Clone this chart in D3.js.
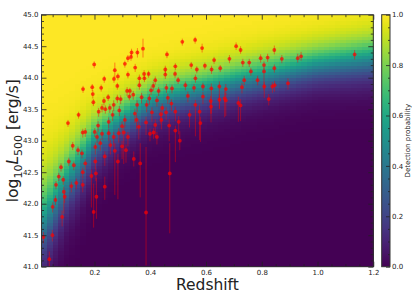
<!DOCTYPE html>
<html>
<head>
<meta charset="utf-8">
<script src="https://cdn.jsdelivr.net/npm/d3@7"></script>
<style>
body { margin:0; background:#fff; }
svg text { font-family:"DejaVu Sans", sans-serif; fill:#222; }
</style>
</head>
<body>
<svg id="chart" width="415" height="297"></svg>
<script>
// plot box (px)
var box = {left: 41.5, right: 373.3, top: 14.7, bottom: 266.7};
var cbar = {left: 381.7, right: 390};

// cluster sample: redshift, log L500 and asymmetric errors (dex)
var redshift = [0.199,0.333,0.354,0.331,0.320,0.309,0.273,0.284,0.270,0.235,0.320,0.282,0.192,0.224,0.159,0.194,0.317,0.327,0.325,0.249,
  0.234,0.282,0.294,0.196,0.269,0.227,0.239,0.255,0.215,0.289,0.143,0.265,0.105,0.213,0.251,0.309,0.299,0.515,0.561,0.586,
  0.374,0.460,0.346,0.454,0.454,0.490,0.547,0.596,0.629,0.620,0.651,0.394,0.378,0.361,0.379,0.418,0.489,0.500,0.567,0.562,
  0.526,0.557,0.589,0.619,0.648,0.361,0.411,0.458,0.478,0.403,0.430,0.339,0.369,0.397,0.424,0.463,0.535,0.589,0.617,0.648,
  0.353,0.387,0.443,0.476,0.562,0.618,0.345,0.406,0.438,0.457,0.490,0.577,0.541,0.351,0.385,0.418,0.440,0.502,0.580,0.468,
  0.359,0.708,0.724,0.845,0.684,0.732,0.755,0.796,0.821,0.872,0.929,0.941,0.808,0.761,0.808,0.845,0.737,0.785,0.671,0.729,
  0.809,0.838,0.846,0.894,0.667,0.671,0.716,0.724,0.825,1.133,0.158,0.167,0.201,0.209,0.227,0.251,0.269,0.287,0.305,0.320,
  0.122,0.141,0.155,0.203,0.221,0.257,0.273,0.299,0.313,0.080,0.108,0.126,0.167,0.203,0.237,0.284,0.072,0.088,0.135,0.158,
  0.189,0.205,0.158,0.117,0.062,0.060,0.090,0.093,0.237,0.207,0.050,0.084,0.197,0.017,0.038,0.049,0.341,0.364,0.385,0.470,
  0.506,0.399,0.412,0.424,0.490];
var logL = [44.21,44.40,44.40,44.33,44.31,44.22,44.12,44.02,43.98,43.98,44.05,43.87,43.85,43.84,43.82,43.74,43.79,43.79,43.70,43.69,
  43.63,43.67,43.66,43.61,43.57,43.52,43.50,43.52,43.46,43.48,43.41,43.41,43.28,43.24,43.30,43.33,43.23,44.57,44.60,44.47,
  44.46,44.37,44.16,44.13,44.05,44.18,44.20,44.19,44.28,44.13,44.15,44.06,44.06,43.99,43.99,43.96,44.06,43.96,44.13,43.99,
  43.88,43.84,43.86,43.83,43.86,43.88,43.87,43.84,43.83,43.80,43.79,43.73,43.69,43.67,43.64,43.68,43.71,43.70,43.63,43.65,
  43.57,43.57,43.52,43.59,43.57,43.54,43.43,43.45,43.42,43.45,43.46,43.46,43.41,43.33,43.29,43.25,43.33,43.30,43.28,43.24,
  43.22,44.50,44.44,44.44,44.30,44.24,44.24,44.31,44.32,44.30,44.31,44.34,44.20,44.10,44.10,44.15,43.96,43.96,43.82,43.85,
  43.86,43.86,43.88,43.91,43.67,43.64,43.60,43.56,43.66,44.37,43.13,43.14,43.14,43.06,43.11,43.12,43.06,43.12,43.13,43.06,
  42.92,42.85,42.80,42.90,42.96,42.93,42.84,42.91,42.85,42.58,42.67,42.61,42.64,42.67,42.75,42.67,42.43,42.38,42.33,42.50,
  42.44,42.48,42.30,42.28,42.30,42.06,42.19,42.11,42.27,42.11,41.95,41.79,41.87,41.47,41.12,41.50,42.71,42.64,41.86,42.48,
  43.00,43.11,43.13,43.06,43.16];
var errLo = [0.06,0.06,0.08,0.06,0.06,0.06,0.12,0.06,0.06,0.06,0.06,0.06,0.06,0.06,0.06,0.07,0.08,0.06,0.06,0.06,
  0.07,0.07,0.08,0.06,0.10,0.07,0.07,0.08,0.08,0.09,0.06,0.10,0.06,0.10,0.10,0.12,0.15,0.06,0.06,0.07,
  0.14,0.06,0.07,0.07,0.07,0.06,0.06,0.06,0.06,0.07,0.06,0.06,0.07,0.07,0.06,0.07,0.06,0.06,0.06,0.07,
  0.08,0.07,0.07,0.40,0.35,0.07,0.08,0.08,0.08,0.08,0.08,0.08,0.10,0.10,0.10,0.10,0.10,0.12,0.20,0.15,
  0.12,0.12,0.12,0.12,0.50,0.25,0.15,0.15,0.15,0.12,0.15,0.45,0.20,0.15,0.20,0.20,0.15,0.20,0.30,0.25,
  0.20,0.06,0.06,0.07,0.07,0.07,0.07,0.07,0.07,0.07,0.07,0.07,0.07,0.07,0.30,0.07,0.08,0.08,0.10,0.10,
  0.18,0.10,0.10,0.10,0.30,0.25,0.30,0.25,0.10,0.08,0.08,0.08,0.08,0.10,0.10,0.12,0.15,0.15,0.50,0.15,
  0.07,0.08,0.08,0.12,0.12,0.15,0.70,0.20,0.20,0.07,0.07,0.08,0.10,0.12,0.15,0.60,0.07,0.08,0.10,0.10,
  0.50,0.12,0.12,0.10,0.07,0.08,0.35,0.10,0.21,0.35,0.09,0.15,0.25,0.10,0.12,0.10,0.12,0.54,0.84,0.95,
  0.15,0.12,0.10,0.12,0.50];
var errHi = [0.05,0.06,0.07,0.05,0.05,0.05,0.12,0.05,0.05,0.05,0.05,0.05,0.05,0.05,0.05,0.06,0.06,0.05,0.05,0.05,
  0.06,0.06,0.06,0.05,0.07,0.06,0.06,0.06,0.06,0.07,0.05,0.07,0.05,0.07,0.07,0.08,0.08,0.05,0.05,0.07,
  0.16,0.05,0.06,0.06,0.06,0.05,0.05,0.05,0.05,0.06,0.05,0.05,0.06,0.06,0.05,0.06,0.05,0.05,0.05,0.06,
  0.06,0.06,0.06,0.08,0.08,0.06,0.06,0.06,0.06,0.06,0.06,0.06,0.07,0.07,0.07,0.07,0.07,0.07,0.08,0.08,
  0.07,0.07,0.07,0.07,0.08,0.08,0.08,0.08,0.08,0.08,0.08,0.10,0.08,0.08,0.09,0.09,0.08,0.09,0.10,0.10,
  0.09,0.06,0.06,0.07,0.06,0.06,0.06,0.06,0.06,0.06,0.07,0.07,0.06,0.06,0.06,0.06,0.07,0.07,0.08,0.07,
  0.07,0.07,0.07,0.08,0.12,0.12,0.10,0.10,0.08,0.07,0.06,0.06,0.06,0.07,0.07,0.07,0.08,0.08,0.10,0.08,
  0.06,0.06,0.06,0.07,0.07,0.08,0.12,0.09,0.09,0.06,0.06,0.06,0.07,0.07,0.08,0.12,0.06,0.06,0.07,0.07,
  0.10,0.08,0.08,0.07,0.06,0.07,0.08,0.07,0.16,0.30,0.07,0.10,0.45,0.08,0.12,0.08,0.12,0.32,1.04,0.48,
  0.15,0.08,0.07,0.08,0.08];

// detection probability: 50% luminosity and transition width per redshift
var probZ     = [0.01, 0.05, 0.10, 0.15, 0.20, 0.30, 0.40, 0.50, 0.60, 0.70, 0.80, 0.90, 1.00, 1.10, 1.20];
var probL50   = [41.70,42.00,42.38,42.68,43.00,43.35,43.62,43.75,43.84,43.95,44.04,44.13,44.22,44.27,44.32];
var probWidth = [0.38, 0.33, 0.28, 0.26, 0.22, 0.19, 0.18, 0.18, 0.18, 0.18, 0.18, 0.18, 0.18, 0.19, 0.20];
var nCellZ = 60, nCellL = 80;

// ticks
var zDomain = [0.01, 1.2], lDomain = [41.0, 45.0];
var xTicks = [0.2, 0.4, 0.6, 0.8, 1.0, 1.2];
var yTicks = [41.0, 41.5, 42.0, 42.5, 43.0, 43.5, 44.0, 44.5, 45.0];
var cbTicks = [0.0, 0.2, 0.4, 0.6, 0.8, 1.0];

var svg = d3.select("#chart");

var xScale = d3.scaleLinear().domain(zDomain).range([box.left, box.right]);
var yScale = d3.scaleLinear().domain(lDomain).range([box.bottom, box.top]);
var l50At = d3.scaleLinear().domain(probZ).range(probL50).clamp(true);
var widthAt = d3.scaleLinear().domain(probZ).range(probWidth).clamp(true);

//heatmap cells
var cells = [];
var dz = (zDomain[1] - zDomain[0]) / nCellZ, dl = (lDomain[1] - lDomain[0]) / nCellL;
for (var i = 0; i < nCellZ; i++) {
  for (var j = 0; j < nCellL; j++) {
    var zc = zDomain[0] + (i + 0.5) * dz, lc = lDomain[0] + (j + 0.5) * dl;
    var p = 1 / (1 + Math.exp(-(lc - l50At(zc)) / widthAt(zc)));
    cells.push({z0: zDomain[0] + i * dz, l0: lDomain[0] + j * dl, p: p});
  }
}
svg.append("g").selectAll("rect").data(cells).enter().append("rect")
  .attr("x", function(d) { return xScale(d.z0); })
  .attr("y", function(d) { return yScale(d.l0 + dl); })
  .attr("width", function(d) { return xScale(d.z0 + dz) - xScale(d.z0) + 0.4; })
  .attr("height", function(d) { return yScale(d.l0) - yScale(d.l0 + dl) + 0.4; })
  .attr("fill", function(d) { return d3.interpolateViridis(d.p); })
  .attr("shape-rendering", "crispEdges");

// clusters with error bars
var pts = redshift.map(function(z, k) { return {z: z, l: logL[k], lo: errLo[k], hi: errHi[k]}; });
var gp = svg.append("g");
gp.selectAll("line").data(pts).enter().append("line")
  .attr("x1", function(d) { return xScale(d.z); })
  .attr("x2", function(d) { return xScale(d.z); })
  .attr("y1", function(d) { return yScale(d.l - d.lo); })
  .attr("y2", function(d) { return yScale(d.l + d.hi); })
  .attr("stroke", "red").attr("stroke-opacity", 0.45).attr("stroke-width", 1);
gp.selectAll("circle").data(pts).enter().append("circle")
  .attr("cx", function(d) { return xScale(d.z); })
  .attr("cy", function(d) { return yScale(d.l); })
  .attr("r", 1.9)
  .attr("fill", "red").attr("fill-opacity", 0.7);

// axes, ticks pointing inward on all sides
function minorVals(lo, hi, step, majors) {
  return d3.range(lo, hi + step / 2, step).filter(function(v) {
    return !majors.some(function(m) { return Math.abs(m - v) < 1e-6; });
  });
}
var xMinor = minorVals(0.05, 1.15, 0.05, xTicks);
var yMinor = minorVals(41.1, 44.9, 0.1, yTicks);

function tickAxis(axisFn, scale, vals, size, fmt, tx, ty) {
  var g = svg.append("g").attr("transform", "translate(" + tx + "," + ty + ")")
    .call(axisFn(scale).tickValues(vals).tickSize(-size).tickPadding(3).tickFormat(fmt));
  g.select(".domain").remove();
  g.selectAll("line").attr("stroke", "#222").attr("stroke-width", 0.8);
  g.selectAll("text").attr("font-size", 7).attr("fill", "#222").attr("font-family", "DejaVu Sans");
  return g;
}
var noLabel = function() { return ""; };
tickAxis(d3.axisBottom, xScale, xTicks, 5, d3.format(".1f"), 0, box.bottom);
tickAxis(d3.axisBottom, xScale, xMinor, 2.5, noLabel, 0, box.bottom);
tickAxis(d3.axisTop, xScale, xTicks, 5, noLabel, 0, box.top);
tickAxis(d3.axisTop, xScale, xMinor, 2.5, noLabel, 0, box.top);
tickAxis(d3.axisLeft, yScale, yTicks, 5, d3.format(".1f"), box.left, 0);
tickAxis(d3.axisLeft, yScale, yMinor, 2.5, noLabel, box.left, 0);
tickAxis(d3.axisRight, yScale, yTicks, 5, noLabel, box.right, 0);
tickAxis(d3.axisRight, yScale, yMinor, 2.5, noLabel, box.right, 0);

svg.append("rect")
  .attr("x", box.left).attr("y", box.top)
  .attr("width", box.right - box.left).attr("height", box.bottom - box.top)
  .attr("fill", "none").attr("stroke", "#333").attr("stroke-width", 1);

// axis labels
svg.append("text")
  .attr("x", (box.left + box.right) / 2).attr("y", 290)
  .attr("text-anchor", "middle").attr("font-size", 15.5)
  .text("Redshift");

var yl = svg.append("text")
  .attr("transform", "translate(18," + ((box.top + box.bottom) / 2) + ") rotate(-90)")
  .attr("text-anchor", "middle").attr("font-size", 15.5);
yl.append("tspan").text("log");
yl.append("tspan").attr("font-size", 11).attr("dy", 3.5).text("10");
yl.append("tspan").attr("font-style", "italic").attr("dy", -3.5).text("L");
yl.append("tspan").attr("font-size", 11).attr("dy", 3.5).text("500");
yl.append("tspan").attr("dy", -3.5).text(" [erg/s]");

//colorbar
var cScale = d3.scaleLinear().domain([0, 1]).range([box.bottom, box.top]);
var grad = svg.append("defs").append("linearGradient").attr("id", "vir")
  .attr("x1", 0).attr("y1", 1).attr("x2", 0).attr("y2", 0);
d3.range(0, 1.0001, 0.05).forEach(function(t) {
  grad.append("stop").attr("offset", t).attr("stop-color", d3.interpolateViridis(t));
});
svg.append("rect")
  .attr("x", cbar.left).attr("y", box.top)
  .attr("width", cbar.right - cbar.left).attr("height", box.bottom - box.top)
  .attr("fill", "url(#vir)");
var cbMinor = minorVals(0.05, 0.95, 0.05, cbTicks);
tickAxis(d3.axisRight, cScale, cbMinor, 2, noLabel, cbar.right, 0);
var gcb = tickAxis(d3.axisRight, cScale, cbTicks, 4, d3.format(".1f"), cbar.right, 0);
gcb.selectAll("text").attr("x", 2);
svg.append("rect")
  .attr("x", cbar.left).attr("y", box.top)
  .attr("width", cbar.right - cbar.left).attr("height", box.bottom - box.top)
  .attr("fill", "none").attr("stroke", "#333").attr("stroke-width", 1);
svg.append("text")
  .attr("transform", "translate(410," + ((box.top + box.bottom) / 2) + ") rotate(-90)")
  .attr("text-anchor", "middle").attr("font-size", 7)
  .text("Detection probability");
</script>
</body>
</html>
